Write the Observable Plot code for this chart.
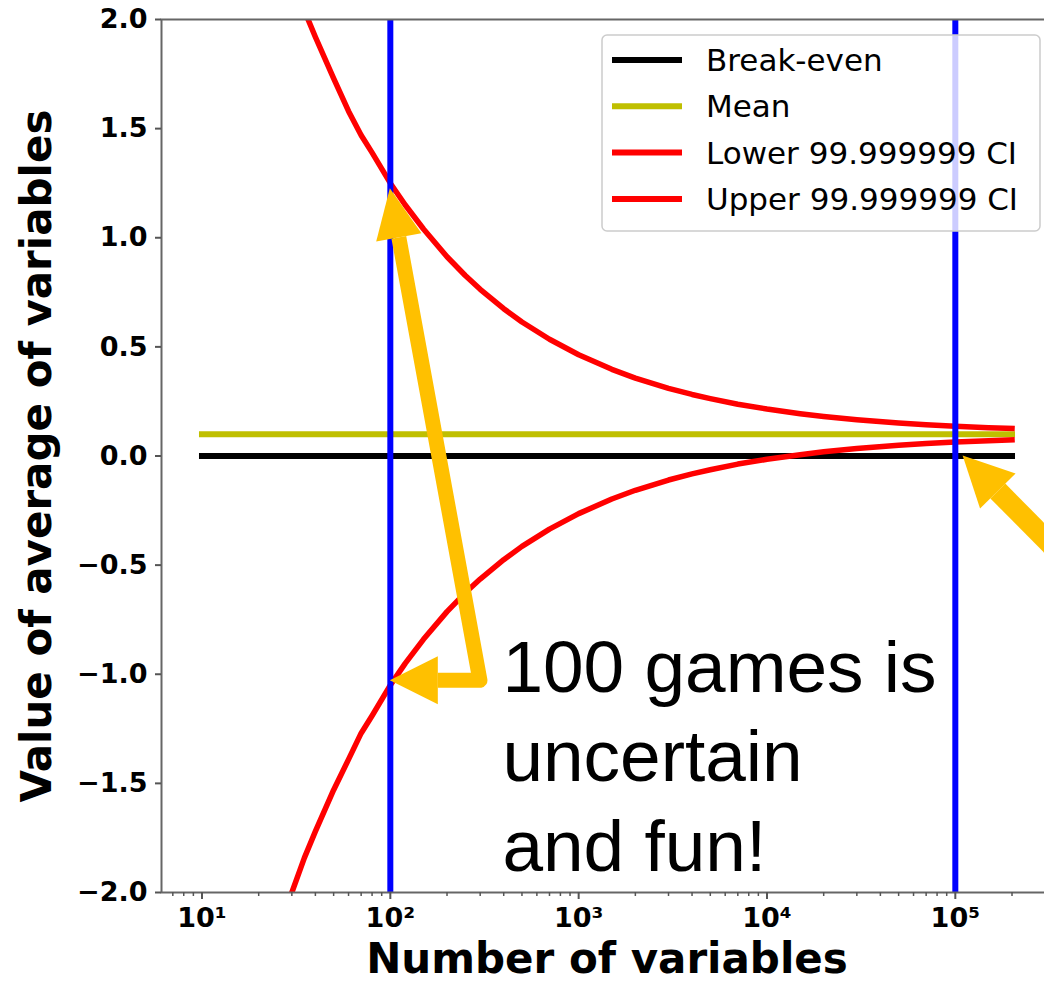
<!DOCTYPE html>
<html><head><meta charset="utf-8">
<script src="https://cdn.jsdelivr.net/npm/d3@7"></script>
<script src="https://cdn.jsdelivr.net/npm/@observablehq/plot@0.6"></script>
<style>
body{margin:0;background:#fff;overflow:hidden}
#chart{position:relative;width:1044px;height:984px;overflow:hidden}
</style>
</head><body><div id="chart"></div>
<script>
// ---- data ----
const nValues = [10, 15, 20, 25, 30, 35, 40, 50, 60, 70, 80, 100, 120, 150, 200, 250, 300, 400, 500, 700, 1000, 1500, 2000, 3000, 4000, 5000, 7000, 10000, 15000, 20000, 30000, 50000, 70000, 100000, 150000, 200000];
const upperCI = [3.74, 3.07, 2.67, 2.40, 2.20, 2.04, 1.92, 1.73, 1.58, 1.47, 1.39, 1.25, 1.15, 1.04, 0.913, 0.827, 0.764, 0.675, 0.614, 0.535, 0.464, 0.397, 0.357, 0.310, 0.282, 0.263, 0.237, 0.215, 0.194, 0.181, 0.166, 0.151, 0.143, 0.136, 0.130, 0.126];
const lowerCI = [-3.54, -2.87, -2.47, -2.20, -2.00, -1.84, -1.72, -1.53, -1.39, -1.27, -1.19, -1.05, -0.95, -0.84, -0.713, -0.627, -0.564, -0.475, -0.414, -0.335, -0.264, -0.197, -0.157, -0.110, -0.082, -0.063, -0.037, -0.015, 0.006, 0.019, 0.034, 0.049, 0.057, 0.064, 0.070, 0.074];
const lineRange = [10, 200000];
const breakEvenValue = 0;
const meanValue = 0.1;
const markerLines = [100, 100000];
const yTicks = [-2, -1.5, -1, -0.5, 0, 0.5, 1, 1.5, 2];
const xTicks = [10, 100, 1000, 10000, 100000];
const xTickLabels = ["10¹", "10²", "10³", "10⁴", "10⁵"];
const seriesNames = ["Break-even", "Mean", "Lower 99.999999 CI", "Upper 99.999999 CI"];
const seriesColors = ["#000000", "#bfbf00", "#ff0000", "#ff0000"];
const xTitle = "Number of variables";
const yTitle = "Value of average of variables";
const noteText = "100 games is\nuncertain\nand fun!";
const notePos = [396, -0.844];
// annotation arrows (data coordinates)
const arrowCorner = [301, -1.03];
const arrowTipUpper = [100, 1.225];
const arrowTipLower = [100, -1.03];
const arrowRightTail = [567000, -0.62];
const arrowRightTip = [110000, 0.0];

// ---- derived tables ----
const ciTable = nValues.map((n, i) => ({n, upper: upperCI[i], lower: lowerCI[i]}));
const flatTable = lineRange.map(n => ({n, be: breakEvenValue, mean: meanValue}));
const minorTicks = [];
for (let e = 0; e <= 5; e++) for (let m = 2; m <= 9; m++) {
  const v = m * Math.pow(10, e);
  if (v > 6.1 && v < 328000) minorTicks.push(v);
}
const fmtY = d => (d < 0 ? "\u2212" : "") + Math.abs(d).toFixed(1);
const LW = 6;

const chart = Plot.plot({
  width: 1044, height: 984,
  marginLeft: 161, marginRight: -8, marginTop: 19, marginBottom: 92,
  style: {fontFamily: "'DejaVu Sans', sans-serif", fontSize: "27px", fontWeight: "bold", color: "#000", background: "#fff"},
  x: {type: "log", domain: [Math.pow(10, 0.785), Math.pow(10, 5.516)]},
  y: {domain: [-2, 2]},
  marks: [
    Plot.line(flatTable, {x: "n", y: "be", stroke: seriesColors[0], strokeWidth: LW, strokeLinecap: "square", clip: true}),
    Plot.line(flatTable, {x: "n", y: "mean", stroke: seriesColors[1], strokeWidth: LW, strokeLinecap: "square", clip: true}),
    Plot.line(ciTable, {x: "n", y: "lower", stroke: seriesColors[2], strokeWidth: LW - 0.5, strokeLinecap: "square", strokeLinejoin: "round", clip: true}),
    Plot.line(ciTable, {x: "n", y: "upper", stroke: seriesColors[3], strokeWidth: LW - 0.5, strokeLinecap: "square", strokeLinejoin: "round", clip: true}),
    Plot.ruleX(markerLines, {stroke: "#0000ff", strokeWidth: 6}),
    Plot.frame({stroke: "#666", strokeWidth: 2}),
    Plot.axisY({ticks: yTicks, tickFormat: fmtY, tickSize: 6, tickPadding: 8, stroke: "#555", strokeWidth: 2, fontSize: 27, fontWeight: "bold", label: null}),
    Plot.axisX({ticks: xTicks, tickFormat: d => xTickLabels[xTicks.indexOf(d)], tickSize: 7, tickPadding: 8, stroke: "#555", strokeWidth: 2, fontSize: 27, fontWeight: "bold", label: null}),
    Plot.axisX({ticks: minorTicks, tickFormat: () => "", tickSize: 4, stroke: "#555", strokeWidth: 1.5, label: null}),
    Plot.text([xTitle], {frameAnchor: "bottom", dy: 80, lineAnchor: "bottom", textAnchor: "middle", fontSize: 42, fontWeight: "bold"}),
    Plot.text([yTitle], {frameAnchor: "left", rotate: -90, dx: -124, lineAnchor: "middle", textAnchor: "middle", fontSize: 42, fontWeight: "bold"}),
  ]
});
document.getElementById("chart").appendChild(chart);

// ---- legend (inside the axes, upper right) ----
const svg = d3.select(chart);
const lg = svg.append("g");
lg.append("rect").attr("x", 602).attr("y", 35).attr("width", 438).attr("height", 196).attr("rx", 5)
  .attr("fill", "#fff").attr("fill-opacity", 0.8).attr("stroke", "#cccccc").attr("stroke-width", 1.5);
seriesNames.forEach((name, i) => {
  const yy = 60 + i * 46.3;
  lg.append("line").attr("x1", 612).attr("x2", 682).attr("y1", yy).attr("y2", yy)
    .attr("stroke", seriesColors[i]).attr("stroke-width", 6);
  lg.append("text").attr("x", 706).attr("y", yy).attr("dy", "0.36em").attr("text-anchor", "start")
    .attr("font-family", "'DejaVu Sans', sans-serif").attr("font-size", 31).attr("font-weight", "normal")
    .attr("fill", "#000").text(name);
});

// ---- annotation arrows & text, positioned through Plot's scales ----
const sx = chart.scale("x"), sy = chart.scale("y");
const P = p => [sx.apply(p[0]), sy.apply(p[1])];
const gold = "#ffc000";
const ann = svg.append("g");
function headPoly(tip, from, L, W) {
  const dx = tip[0] - from[0], dy = tip[1] - from[1];
  const len = Math.hypot(dx, dy), ux = dx / len, uy = dy / len;
  const base = [tip[0] - ux * L, tip[1] - uy * L];
  const nx = -uy, ny = ux;
  const pts = [tip, [base[0] + nx * W / 2, base[1] + ny * W / 2], [base[0] - nx * W / 2, base[1] - ny * W / 2]];
  return {base, pts};
}
const C = P(arrowCorner), TA = P(arrowTipUpper), TB = P(arrowTipLower);
const hA = headPoly(TA, C, 50, 46), hB = headPoly(TB, C, 48, 48);
ann.append("path").attr("d", `M${hA.base}L${C}L${hB.base}`).attr("fill", "none")
  .attr("stroke", gold).attr("stroke-width", 15).attr("stroke-linejoin", "round");
[hA, hB].forEach(h => ann.append("polygon").attr("points", h.pts.map(p => p.join(",")).join(" ")).attr("fill", gold));
const RT = P(arrowRightTail), RP = P(arrowRightTip);
const hC = headPoly(RP, RT, 50, 50);
ann.append("path").attr("d", `M${RT}L${hC.base}`).attr("stroke", gold).attr("stroke-width", 21).attr("fill", "none");
ann.append("polygon").attr("points", hC.pts.map(p => p.join(",")).join(" ")).attr("fill", gold);

const note = ann.append("text").attr("font-family", "'Liberation Sans', Arial, sans-serif")
  .attr("font-size", 73).attr("font-weight", "normal").attr("fill", "#000").attr("text-anchor", "start");
const [nx0, ny0] = P(notePos);
noteText.split("\n").forEach((t, i) => {
  note.append("tspan").attr("x", nx0).attr("y", ny0 + i * 89.5).attr("dy", "0.716em").text(t);
});
</script>
</body></html>
